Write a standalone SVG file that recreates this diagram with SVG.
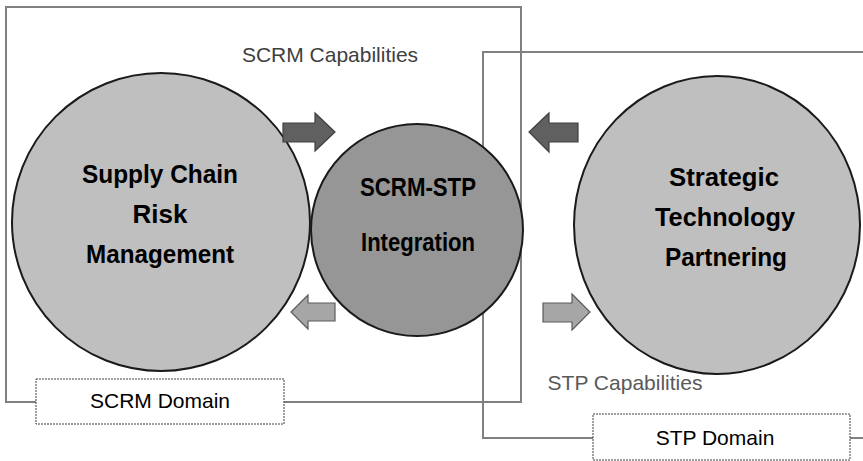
<svg xmlns="http://www.w3.org/2000/svg" width="863" height="461" viewBox="0 0 863 461">
<style>
.frame{fill:none;stroke:#808080;stroke-width:2}
.circ{stroke:#1a1a1a;stroke-width:2}
.lt{fill:#bfbfbf}
.dk{fill:#969696}
.ttl{font-family:"Liberation Sans",Arial,sans-serif;font-weight:bold;font-size:26px;fill:#000;text-anchor:middle}
.lbl{font-family:"Liberation Sans",Arial,sans-serif;font-size:21px;text-anchor:middle}
.dash{fill:#fff;stroke:#404040;stroke-width:1;stroke-dasharray:2 1}
.arD{fill:#606060;stroke:#404040;stroke-width:1.2}
.arL{fill:#a6a6a6;stroke:#5a5a5a;stroke-width:1.2}
</style>
<rect width="863" height="461" fill="#fff"/>
<g id="connectors">
  <polyline class="frame" points="36,402 6,402 6,7 521,7 521,402 284,402"/>
  <polyline class="frame" points="593,438 483,438 483,52 863,52"/>
  <line class="frame" x1="850" y1="438" x2="863" y2="438"/>
</g>
<g id="node-scrm">
  <ellipse class="circ lt" cx="161" cy="222" rx="149" ry="149"/>
  <text class="ttl" x="160" y="183" textLength="156" lengthAdjust="spacingAndGlyphs">Supply Chain</text>
  <text class="ttl" x="160" y="223" textLength="55" lengthAdjust="spacingAndGlyphs">Risk</text>
  <text class="ttl" x="160" y="263" textLength="148" lengthAdjust="spacingAndGlyphs">Management</text>
</g>
<g id="node-integration">
  <circle class="circ dk" cx="417" cy="230" r="106"/>
  <text class="ttl" x="418" y="196" textLength="116" lengthAdjust="spacingAndGlyphs">SCRM-STP</text>
  <text class="ttl" x="418" y="251" textLength="114" lengthAdjust="spacingAndGlyphs">Integration</text>
</g>
<g id="node-stp">
  <ellipse class="circ lt" cx="717" cy="225" rx="143" ry="149"/>
  <text class="ttl" x="724" y="186" textLength="110" lengthAdjust="spacingAndGlyphs">Strategic</text>
  <text class="ttl" x="725" y="226" textLength="140" lengthAdjust="spacingAndGlyphs">Technology</text>
  <text class="ttl" x="726" y="266" textLength="122" lengthAdjust="spacingAndGlyphs">Partnering</text>
</g>
<g id="arrows">
  <polygon class="arD" points="283,123 315,123 315,113 335,132 315,151 315,142 283,142"/>
  <polygon class="arD" points="578,123 549,123 549,113 529,132 549,152 549,142 578,142"/>
  <polygon class="arL" points="335,303 308,303 308,295 291,312 308,329 308,321 335,321"/>
  <polygon class="arL" points="543,303 572,303 572,294 590,312 572,330 572,322 543,322"/>
</g>
<g id="label-scrm-cap">
  <text class="lbl" x="330" y="62" fill="#404040">SCRM Capabilities</text>
</g>
<g id="label-stp-cap">
  <text class="lbl" x="625" y="390" fill="#595959">STP Capabilities</text>
</g>
<g id="node-scrm-domain">
  <rect class="dash" x="36" y="379" width="248" height="45"/>
  <text class="lbl" x="160" y="408" fill="#000">SCRM Domain</text>
</g>
<g id="node-stp-domain">
  <rect class="dash" x="593" y="414" width="257" height="46"/>
  <text class="lbl" x="715" y="445" fill="#000">STP Domain</text>
</g>
</svg>
